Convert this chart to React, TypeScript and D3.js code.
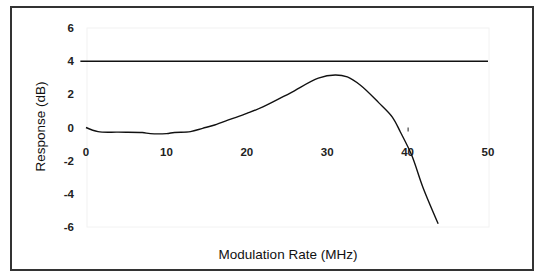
import { useEffect, useRef } from 'react';
import * as d3 from 'd3';

// measured response curve (MHz, dB)
const rateMHz = [0, 1.5, 4, 7, 8, 10, 11, 13, 14.5, 16, 18, 20, 22, 25.4, 28.9, 31, 32.5, 34.1, 36.4, 38.1, 39.1, 40.5, 41.9, 43.8];
const responseDb = [0, -0.25, -0.28, -0.3, -0.37, -0.37, -0.3, -0.25, -0.05, 0.15, 0.5, 0.85, 1.24, 2.08, 2.98, 3.17, 3.05, 2.56, 1.5, 0.63, -0.27, -1.66, -3.6, -5.8];

// flat limit line
const limitX = [-0.7, 50];
const limitY = [4, 4];

const xTicks = [0, 10, 20, 30, 40, 50];
const yTicks = [6, 4, 2, 0, -2, -4, -6];

const App = () => {
  const svgRef = useRef<SVGSVGElement>(null);

  useEffect(() => {
    const svg = d3.select(svgRef.current);
    svg.selectAll('*').remove();

    const width = 535;
    const height = 272;

    const x = d3.scaleLinear().domain([0, 50]).range([86, 488]);
    const y = d3.scaleLinear().domain([-6, 6]).range([227, 28]);

    // outer frame
    svg.append('rect')
      .attr('x', 11).attr('y', 7)
      .attr('width', 522).attr('height', 263)
      .attr('fill', '#fff')
      .attr('stroke', '#333')
      .attr('stroke-width', 2);

    // faint plot area
    svg.append('rect')
      .attr('x', x(0) + 1).attr('y', y(6))
      .attr('width', x(50) - x(0)).attr('height', y(-6) - y(6))
      .attr('fill', 'none')
      .attr('stroke', '#f2f2f2');

    const font = 'Arial, "Liberation Sans", sans-serif';

    // y tick labels
    svg.append('g')
      .selectAll('text')
      .data(yTicks)
      .enter()
      .append('text')
      .attr('x', 74)
      .attr('y', d => y(d) + 4)
      .attr('text-anchor', 'end')
      .attr('font-family', font)
      .attr('font-size', 11.5)
      .attr('font-weight', 'bold')
      .attr('fill', '#222')
      .text(d => (d < 0 ? '-' + Math.abs(d) : String(d)));

    // x tick labels, sitting just under the zero line
    svg.append('g')
      .selectAll('text')
      .data(xTicks)
      .enter()
      .append('text')
      .attr('x', d => x(d))
      .attr('y', y(0) + 28)
      .attr('text-anchor', 'middle')
      .attr('font-family', font)
      .attr('font-size', 11.5)
      .attr('font-weight', 'bold')
      .attr('fill', '#222')
      .text(d => String(d));

    // stray tick at 40
    svg.append('line')
      .attr('x1', x(40) + 0.5).attr('x2', x(40) + 0.5)
      .attr('y1', y(0)).attr('y2', y(0) + 4)
      .attr('stroke', '#222');

    // limit line
    const limit = limitX.map((v, i) => [v, limitY[i]] as [number, number]);
    svg.append('path')
      .datum(limit)
      .attr('d', d3.line<[number, number]>().x(d => x(d[0])).y(d => y(d[1])))
      .attr('fill', 'none')
      .attr('stroke', '#111')
      .attr('stroke-width', 1.5);

    // response curve
    const pts = rateMHz.map((v, i) => [v, responseDb[i]] as [number, number]);
    svg.append('path')
      .datum(pts)
      .attr('d', d3.line<[number, number]>().x(d => x(d[0])).y(d => y(d[1])).curve(d3.curveCatmullRom))
      .attr('fill', 'none')
      .attr('stroke', '#111')
      .attr('stroke-width', 1.4);

    // axis titles
    svg.append('text')
      .attr('x', 288)
      .attr('y', 259)
      .attr('text-anchor', 'middle')
      .attr('font-family', font)
      .attr('font-size', 13.5)
      .attr('fill', '#111')
      .text('Modulation Rate (MHz)');

    svg.append('text')
      .attr('transform', `translate(45,${y(0) - 1}) rotate(-90)`)
      .attr('text-anchor', 'middle')
      .attr('font-family', font)
      .attr('font-size', 13.5)
      .attr('fill', '#111')
      .text('Response (dB)');

    svg.attr('width', width).attr('height', height);
  }, []);

  return (
    <svg
      ref={svgRef}
      width={535}
      height={272}
      style={{ position: 'absolute', left: 0, top: 0, display: 'block' }}
    />
  );
};

export default App;
